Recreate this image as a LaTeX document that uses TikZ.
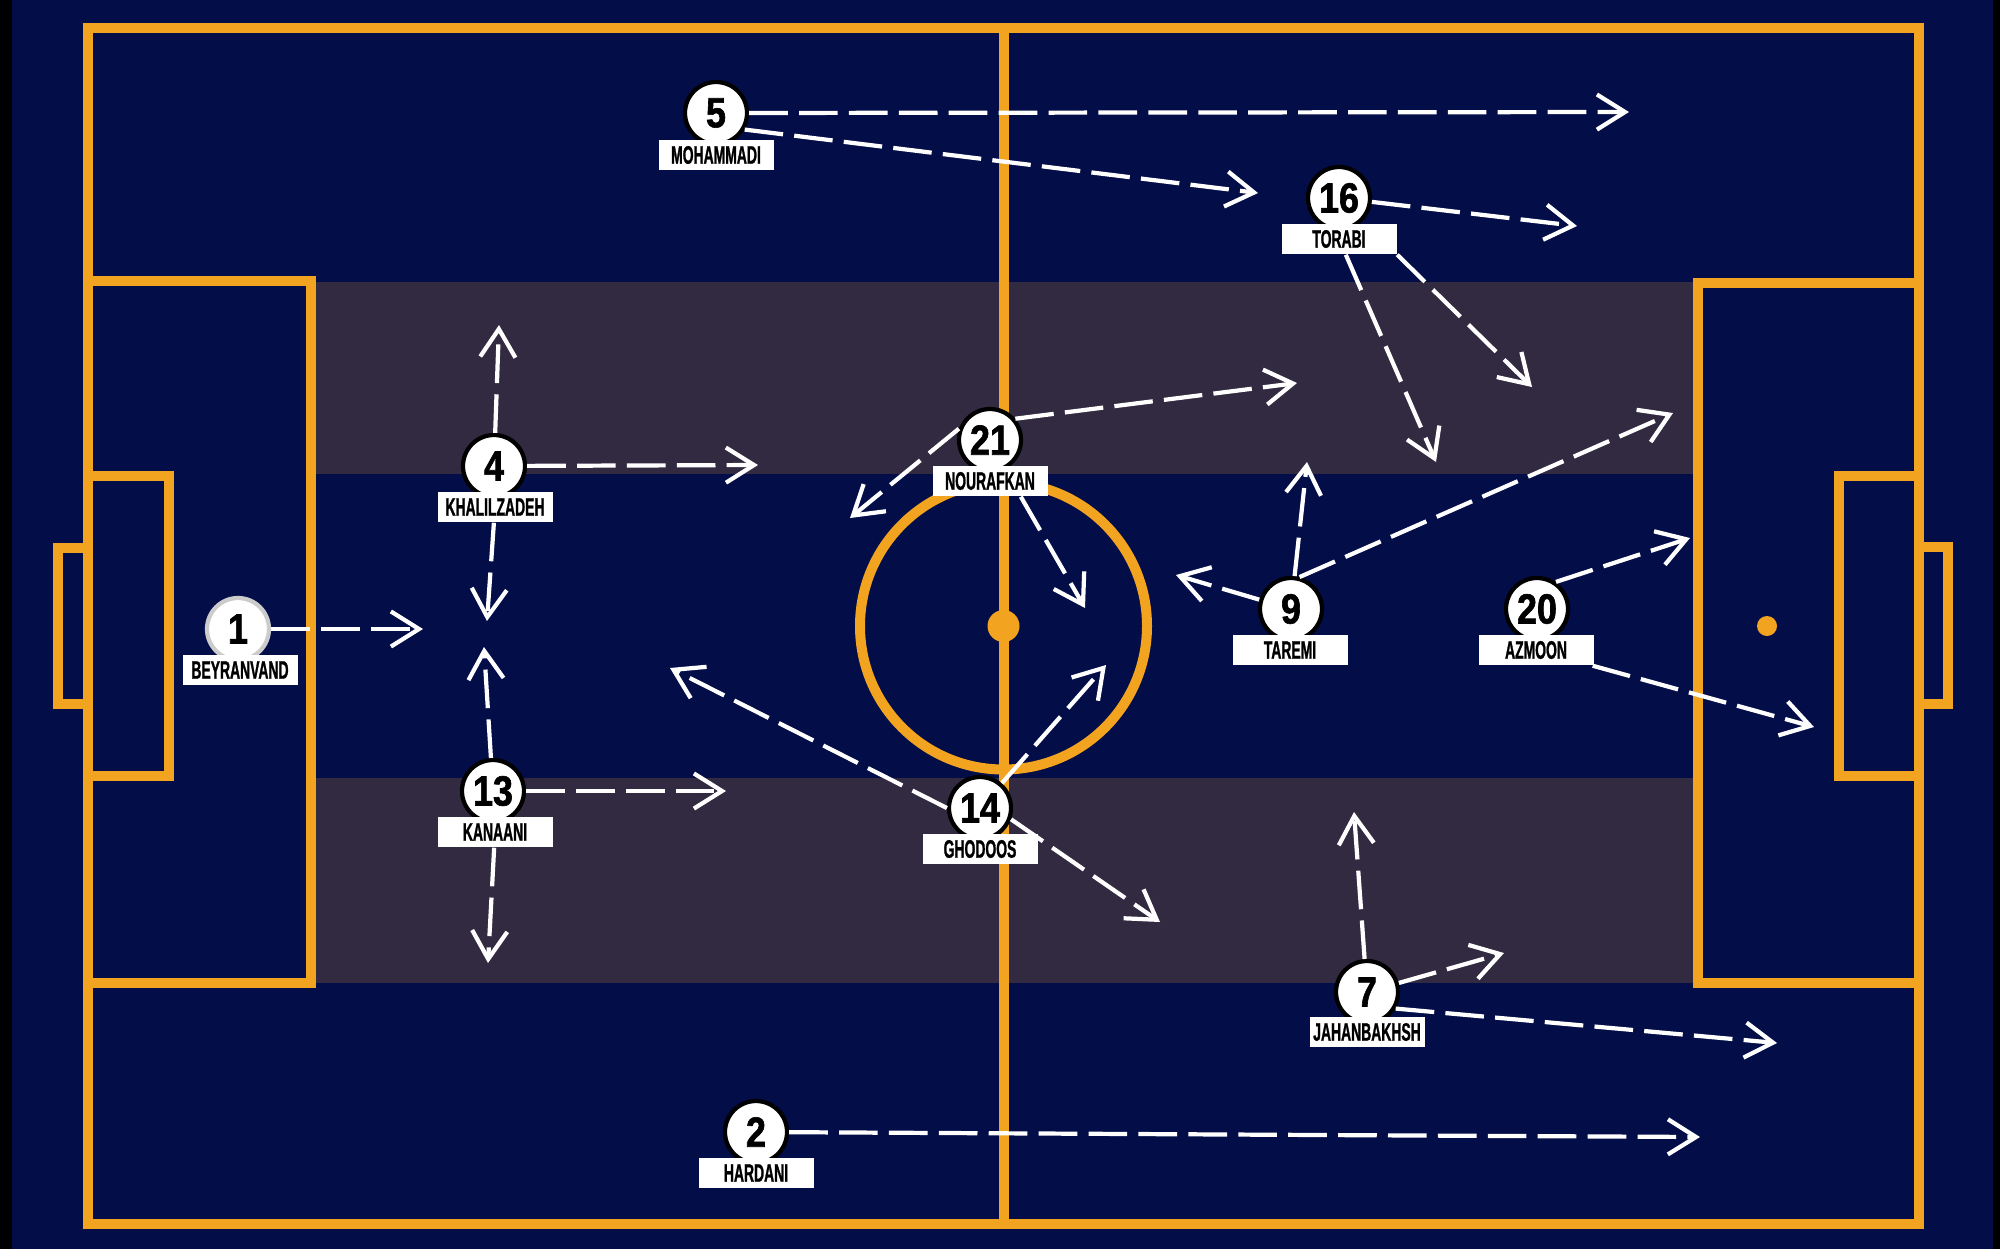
\documentclass[tikz,border=0pt]{standalone}
\usepackage{fontspec}
\setmainfont{Liberation Sans}
\newfontfamily\numfont{Liberation Sans}[UprightFont={* Bold}, FakeStretch=0.85, FakeBold=1.5]
\newfontfamily\namefont{Liberation Sans}[UprightFont={* Bold}, FakeStretch=0.55, FakeBold=1]
\usetikzlibrary{arrows.meta}
\definecolor{pitchblue}{RGB}{3,13,72}
\definecolor{stripegrey}{RGB}{50,42,65}
\definecolor{lineorange}{RGB}{242,163,32}
\tikzset{
  player/.style={circle, draw=black, line width=1.2pt, fill=white, minimum size=0.62cm, inner sep=0pt, font=\numfont\fontsize{12}{12}\selectfont},
  namebox/.style={fill=white, minimum width=1.15cm, minimum height=0.30cm, inner sep=0pt, font=\namefont\fontsize{7.2}{7.5}\selectfont},
  runline/.style={->, white, line width=1.2pt, dash pattern=on 11pt off 3.2pt},
  pitchline/.style={draw=lineorange, line width=0.1cm}
}
\begin{document}
\begin{tikzpicture}[y=-1cm, >={Straight Barb[length=8pt,width=10pt]}]
 \useasboundingbox (0,0) rectangle (20,12.49);
 % pitch
 \fill[black] (0,0) rectangle (20,12.49);
 \fill[pitchblue] (0.12,0) rectangle (19.93,12.49);
 \fill[stripegrey] (3.11,2.82) rectangle (16.98,4.74);
 \fill[stripegrey] (3.11,7.78) rectangle (16.98,9.83);
 \draw[pitchline] (0.88,0.28) rectangle (19.19,12.24);
 \draw[pitchline] (10.035,0.28) -- (10.035,12.24);
 \draw[pitchline] (10.035,6.26) circle (1.435);
 \fill[lineorange] (10.035,6.26) circle (0.16);
 \draw[pitchline] (0.88,2.81) rectangle (3.11,9.83);
 \draw[pitchline] (0.88,4.76) rectangle (1.69,7.76);
 \draw[pitchline] (0.58,5.48) rectangle (0.88,7.04);
 \draw[pitchline] (16.98,2.83) rectangle (19.19,9.83);
 \draw[pitchline] (18.39,4.76) rectangle (19.19,7.76);
 \draw[pitchline] (19.19,5.47) rectangle (19.48,7.04);
 \fill[lineorange] (17.67,6.26) circle (0.1);

 % players
 \node[player, draw=gray!40] (p1) at (2.38,6.29) {1};
 \node[namebox] (n1) at (2.40,6.70) {BEYRANVAND};
 \node[player] (p5) at (7.16,1.13) {5};
 \node[namebox] (n5) at (7.16,1.55) {MOHAMMADI};
 \node[player] (p16) at (13.39,1.98) {16};
 \node[namebox] (n16) at (13.39,2.39) {TORABI};
 \node[player] (p4) at (4.94,4.66) {4};
 \node[namebox] (n4) at (4.95,5.07) {KHALILZADEH};
 \node[player] (p21) at (9.90,4.40) {21};
 \node[namebox] (n21) at (9.90,4.81) {NOURAFKAN};
 \node[player] (p9) at (12.91,6.09) {9};
 \node[namebox] (n9) at (12.90,6.50) {TAREMI};
 \node[player] (p20) at (15.37,6.09) {20};
 \node[namebox] (n20) at (15.36,6.50) {AZMOON};
 \node[player] (p13) at (4.93,7.91) {13};
 \node[namebox] (n13) at (4.95,8.32) {KANAANI};
 \node[player] (p14) at (9.80,8.08) {14};
 \node[namebox] (n14) at (9.80,8.49) {GHODOOS};
 \node[player] (p7) at (13.67,9.92) {7};
 \node[namebox] (n7) at (13.67,10.32) {JAHANBAKHSH};
 \node[player] (p2) at (7.56,11.32) {2};
 \node[namebox] (n2) at (7.56,11.73) {HARDANI};

 % where the runs end
 \coordinate (t1) at (4.23,6.29);
 \coordinate (t5a) at (16.29,1.12);
 \coordinate (t5b) at (12.58,1.93);
 \coordinate (t16a) at (15.77,2.26);
 \coordinate (t16b) at (15.32,3.87);
 \coordinate (t16c) at (14.36,4.62);
 \coordinate (t4a) at (4.99,3.25);
 \coordinate (t4b) at (7.58,4.65);
 \coordinate (t4c) at (4.87,6.21);
 \coordinate (t13a) at (4.84,6.47);
 \coordinate (t13b) at (7.26,7.91);
 \coordinate (t13c) at (4.88,9.63);
 \coordinate (t21a) at (12.97,3.83);
 \coordinate (t21b) at (8.50,5.18);
 \coordinate (t21c) at (10.85,6.08);
 \coordinate (t9a) at (13.07,4.62);
 \coordinate (t9b) at (11.76,5.75);
 \coordinate (t9c) at (16.73,4.13);
 \coordinate (t20a) at (16.90,5.38);
 \coordinate (t20b) at (18.14,7.27);
 \coordinate (t14a) at (6.70,6.68);
 \coordinate (t14b) at (11.06,6.65);
 \coordinate (t14c) at (11.60,9.22);
 \coordinate (t7a) at (13.54,8.12);
 \coordinate (t7b) at (15.04,9.53);
 \coordinate (t7c) at (17.77,10.43);
 \coordinate (t2) at (17.00,11.37);

 % runs
 \draw[runline] (p1) -- (t1);
 \draw[runline] (p5) -- (t5a);
 \draw[runline] (p5.-30) -- (t5b);
 \draw[runline] (p16) -- (t16a);
 \draw[runline] (n16.south east) -- (t16b);
 \draw[runline] (n16) -- (t16c);
 \draw[runline] (p4) -- (t4a);
 \draw[runline] (p4) -- (t4b);
 \draw[runline] (n4) -- (t4c);
 \draw[runline] (p13) -- (t13a);
 \draw[runline] (p13) -- (t13b);
 \draw[runline] (n13) -- (t13c);
 \draw[runline] (p21.40) -- (t21a);
 \draw[runline] (p21.160) -- (t21b);
 \draw[runline] (n21.-27) -- (t21c);
 \draw[runline] (p9) -- (t9a);
 \draw[runline] (p9) -- (t9b);
 \draw[runline] (p9.75) -- (t9c);
 \draw[runline] (p20.55) -- (t20a);
 \draw[runline] (n20) -- (t20b);
 \draw[runline] (p14.180) -- (t14a);
 \draw[runline] (p14) -- (t14b);
 \draw[runline] (p14.-20) -- (t14c);
 \draw[runline] (p7) -- (t7a);
 \draw[runline] (p7) -- (t7b);
 \draw[runline] (p7.-30) -- (t7c);
 \draw[runline] (p2) -- (t2);
\end{tikzpicture}
\end{document}
